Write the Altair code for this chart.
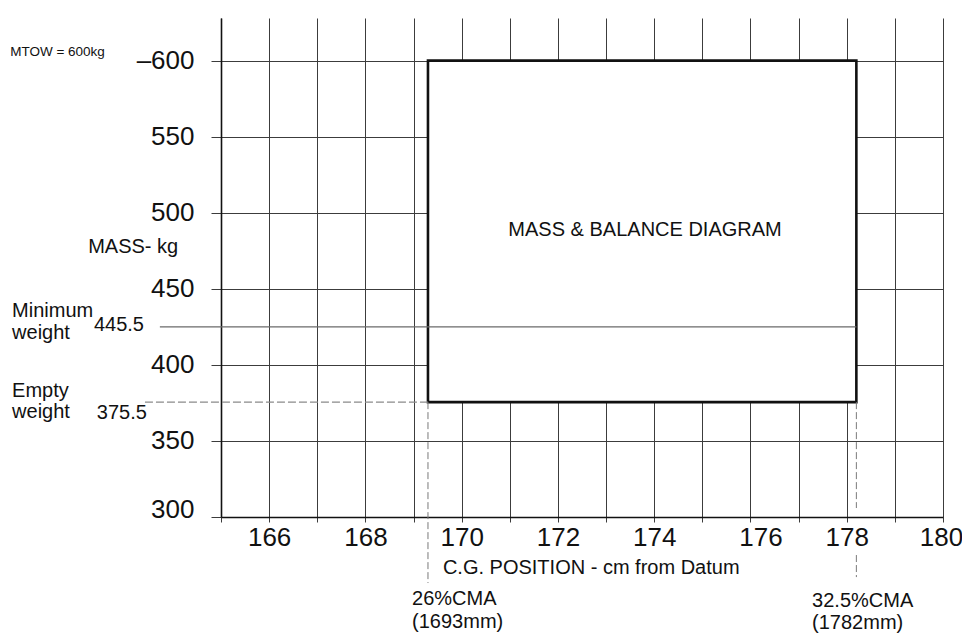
import altair as alt
import pandas as pd

FONT = "Liberation Sans"

# Envelope (C.G. cm, mass kg)
env_x = [169.3, 178.2]
env_y = [375.5, 600]

# Reference lines as drawn
min_weight_pos = 425.0      # line drawn at this level in the picture
min_weight_x = [163.73, 178.2]
empty_weight_pos = 375.5
empty_weight_x = [163.42, 169.3]

# Dashed CMA verticals (x, y_top, y_bottom)
cma_x = [169.3, 178.2, 178.2]
cma_y1 = [375.5, 375.5, 275.0]
cma_y2 = [256.6, 305.9, 260.5]

x_grid = list(range(165, 181))
y_grid = list(range(300, 626, 25))

# annotations
ann_text = ["MTOW = 600kg", "MASS- kg", "Minimum", "weight", "445.5",
            "Empty", "weight", "375.5",
            "C.G. POSITION - cm from Datum",
            "26%CMA", "(1693mm)", "32.5%CMA", "(1782mm)"]
ann_x = [160.62, 162.24, 160.66, 160.66, 162.36,
         160.66, 160.66, 162.42,
         169.61,
         168.97, 168.97, 177.28, 177.28]
ann_y = [605.6, 477.5, 435.4, 420.9, 426.2,
         382.8, 369.0, 368.4,
         266.5,
         246.1, 231.0, 244.8, 230.2]
ann_size = [13.5, 20, 20, 20, 20,
            20, 20, 20,
            20,
            20, 20, 20, 20]

title_text = ["MASS & BALANCE DIAGRAM"]
title_x = [173.81]
title_y = [488.6]

xs = alt.Scale(domain=[165, 180], nice=False, zero=False)
ys = alt.Scale(domain=[300, 628], nice=False, zero=False)

x_axis = alt.Axis(
    values=x_grid,
    labelExpr="datum.value % 2 == 0 ? datum.label : ''",
    grid=True, gridColor="#3c3c3c", gridWidth=1,
    tickSize=5, tickColor="#3c3c3c",
    domainColor="#111111", domainWidth=1.6,
    labelFont=FONT, labelFontSize=26, labelColor="#111111",
    labelPadding=2, labelFlush=False, labelOverlap=False,
    labelOffset={"condition": [
        {"test": "datum.value == 176", "value": 10},
        {"test": "datum.value == 180", "value": -2},
    ], "value": 0},
    title=None,
)
y_axis = alt.Axis(
    values=y_grid,
    labelExpr="datum.value % 50 == 0 && datum.value <= 600 ? (datum.value == 600 ? '\u2013600' : datum.label) : ''",
    grid=True, gridColor="#3c3c3c", gridWidth=1,
    tickSize=10, tickColor="#3c3c3c",
    domainColor="#111111", domainWidth=1.6,
    labelFont=FONT, labelFontSize=26, labelColor="#111111",
    labelPadding=17, labelFlush=False, labelOverlap=False,
    labelBaseline={"condition": {"test": "datum.value == 300", "value": "alphabetic"}, "value": "middle"},
    title=None,
)

env_df = pd.DataFrame({"x": [env_x[0]], "x2": [env_x[1]], "y": [env_y[0]], "y2": [env_y[1]]})
envelope = alt.Chart(env_df).mark_rect(
    fill="white", stroke="#111111", strokeWidth=2.6
).encode(
    x=alt.X("x:Q", scale=xs, axis=x_axis),
    x2="x2:Q",
    y=alt.Y("y:Q", scale=ys, axis=y_axis),
    y2="y2:Q",
)

minw_df = pd.DataFrame({"x": [min_weight_x[0]], "x2": [min_weight_x[1]], "y": [min_weight_pos]})
minw = alt.Chart(minw_df).mark_rule(color="#6a6a6a", strokeWidth=1.4).encode(
    x=alt.X("x:Q", scale=xs), x2="x2:Q", y=alt.Y("y:Q", scale=ys)
)

empw_df = pd.DataFrame({"x": [empty_weight_x[0]], "x2": [empty_weight_x[1]], "y": [empty_weight_pos]})
empw = alt.Chart(empw_df).mark_rule(color="#8a8a8a", strokeWidth=1.2, strokeDash=[8, 3]).encode(
    x=alt.X("x:Q", scale=xs), x2="x2:Q", y=alt.Y("y:Q", scale=ys)
)

cma_df = pd.DataFrame({"x": cma_x, "y": cma_y1, "y2": cma_y2})
cma = alt.Chart(cma_df).mark_rule(color="#7a7a7a", strokeWidth=1, strokeDash=[7, 3]).encode(
    x=alt.X("x:Q", scale=xs), y=alt.Y("y:Q", scale=ys), y2="y2:Q"
)

ann_df = pd.DataFrame({"t": ann_text, "x": ann_x, "y": ann_y, "s": ann_size})
ann = alt.Chart(ann_df).mark_text(
    align="left", baseline="middle", font=FONT, color="#111111"
).encode(
    x=alt.X("x:Q", scale=xs), y=alt.Y("y:Q", scale=ys), text="t:N",
    size=alt.Size("s:Q", scale=None, legend=None),
)

title_df = pd.DataFrame({"t": title_text, "x": title_x, "y": title_y})
title = alt.Chart(title_df).mark_text(
    align="center", baseline="middle", font=FONT, fontSize=20, color="#111111"
).encode(
    x=alt.X("x:Q", scale=xs), y=alt.Y("y:Q", scale=ys), text="t:N"
)

chart = alt.layer(envelope, minw, empw, cma, ann, title).properties(
    width=722, height=499,
    padding={"left": 221, "top": 18, "right": 19, "bottom": 116},
    autosize="none",
    background="white",
).configure_view(strokeWidth=0)

chart.save("out.html", embed_options={"renderer": "svg", "actions": False})
